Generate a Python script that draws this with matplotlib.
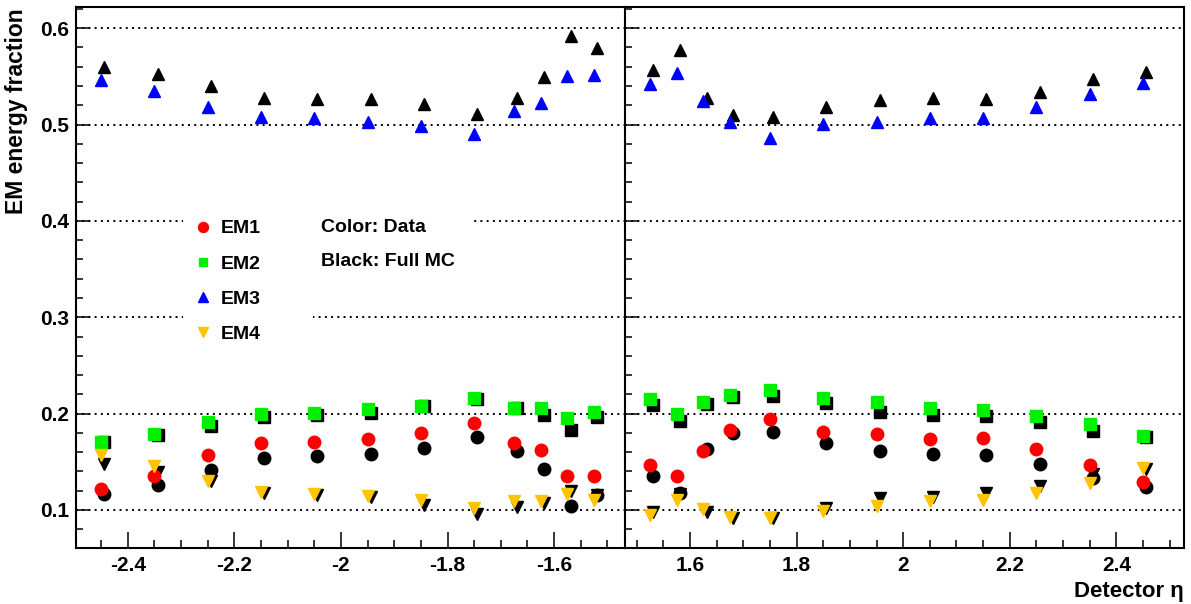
import numpy as np
import matplotlib.pyplot as plt
from matplotlib.lines import Line2D
from matplotlib.patches import Rectangle
from matplotlib.ticker import MultipleLocator, FormatStrFormatter

plt.rcParams['font.family'] = ['Liberation Sans', 'DejaVu Sans']
plt.rcParams['font.weight'] = 'bold'
plt.rcParams['axes.unicode_minus'] = False

# bin centres in detector eta
eta_neg = [-2.45, -2.35, -2.25, -2.15, -2.05, -1.95, -1.85, -1.75, -1.675, -1.625, -1.575, -1.525]
eta_pos = [1.525, 1.575, 1.625, 1.675, 1.75, 1.85, 1.95, 2.05, 2.15, 2.25, 2.35, 2.45]

# data, negative eta
em1_data_neg = [0.122, 0.135, 0.157, 0.169, 0.170, 0.174, 0.180, 0.190, 0.169, 0.162, 0.135, 0.135]
em2_data_neg = [0.171, 0.179, 0.191, 0.200, 0.201, 0.205, 0.208, 0.216, 0.206, 0.206, 0.195, 0.202]
em3_data_neg = [0.546, 0.535, 0.518, 0.508, 0.507, 0.503, 0.498, 0.490, 0.514, 0.522, 0.550, 0.551]
em4_data_neg = [0.157, 0.146, 0.130, 0.119, 0.117, 0.114, 0.110, 0.102, 0.109, 0.109, 0.117, 0.110]
# full MC, negative eta
em1_mc_neg = [0.117, 0.126, 0.141, 0.154, 0.156, 0.158, 0.164, 0.176, 0.161, 0.142, 0.104, 0.116]
em2_mc_neg = [0.170, 0.178, 0.187, 0.196, 0.199, 0.201, 0.208, 0.215, 0.206, 0.199, 0.183, 0.196]
em3_mc_neg = [0.560, 0.552, 0.540, 0.528, 0.527, 0.526, 0.521, 0.511, 0.528, 0.549, 0.592, 0.579]
em4_mc_neg = [0.148, 0.139, 0.130, 0.118, 0.115, 0.113, 0.105, 0.096, 0.103, 0.107, 0.120, 0.115]

# data, positive eta
em1_data_pos = [0.147, 0.135, 0.161, 0.183, 0.194, 0.181, 0.179, 0.174, 0.175, 0.163, 0.147, 0.129]
em2_data_pos = [0.215, 0.200, 0.212, 0.219, 0.225, 0.216, 0.212, 0.206, 0.204, 0.197, 0.189, 0.177]
em3_data_pos = [0.542, 0.553, 0.524, 0.503, 0.486, 0.501, 0.503, 0.507, 0.507, 0.518, 0.532, 0.543]
em4_data_pos = [0.095, 0.110, 0.101, 0.093, 0.092, 0.099, 0.104, 0.109, 0.110, 0.118, 0.128, 0.144]
# full MC, positive eta
em1_mc_pos = [0.135, 0.118, 0.163, 0.180, 0.181, 0.169, 0.161, 0.158, 0.157, 0.148, 0.133, 0.124]
em2_mc_pos = [0.209, 0.192, 0.210, 0.217, 0.218, 0.211, 0.202, 0.199, 0.197, 0.191, 0.182, 0.176]
em3_mc_pos = [0.557, 0.577, 0.528, 0.510, 0.508, 0.518, 0.525, 0.528, 0.527, 0.534, 0.547, 0.555]
em4_mc_pos = [0.098, 0.117, 0.098, 0.092, 0.092, 0.102, 0.112, 0.113, 0.118, 0.125, 0.137, 0.143]

labels = ['EM1', 'EM2', 'EM3', 'EM4']
colors = ['#ff0000', '#00f000', '#0000ff', '#ffc400']
markers = ['o', 's', '^', 'v']
sizes = [9, 8, 9, 9]
mc_shift = 0.006

fig = plt.figure(figsize=(11.91, 6.04), dpi=100)
W, H = 1191.0, 604.0
bot, top = 56 / H, 1 - 7 / H
axL = fig.add_axes([76 / W, bot, 549 / W, top - bot])
axR = fig.add_axes([625 / W, bot, 559 / W, top - bot])


def draw_panel(ax, eta, data, mc, xlim, show_ylabels):
    for yv in [0.1, 0.2, 0.3, 0.4, 0.5, 0.6]:
        ax.axhline(yv, color='black', lw=1.4, ls=(0, (1, 2.2)), zorder=1)
    x = np.array(eta)
    for i in range(4):
        ax.plot(x + mc_shift, mc[i], ls='none', marker=markers[i], ms=sizes[i],
                mfc='black', mec='black', zorder=3)
    for i in range(4):
        ax.plot(x, data[i], ls='none', marker=markers[i], ms=sizes[i],
                mfc=colors[i], mec=colors[i], zorder=4)
    ax.set_xlim(*xlim)
    ax.set_ylim(0.0605, 0.622)
    ax.xaxis.set_major_locator(MultipleLocator(0.2))
    ax.xaxis.set_minor_locator(MultipleLocator(0.05))
    ax.yaxis.set_major_locator(MultipleLocator(0.1))
    ax.yaxis.set_minor_locator(MultipleLocator(0.02))
    ax.xaxis.set_major_formatter(FormatStrFormatter('%g'))
    ax.yaxis.set_major_formatter(FormatStrFormatter('%g'))
    ax.tick_params(axis='x', which='major', direction='in', length=11.5, width=1.1,
                   labelsize=15, pad=6)
    ax.tick_params(axis='x', which='minor', direction='in', length=5.8, width=1.1)
    ax.tick_params(axis='y', which='major', direction='in', length=10, width=1.1,
                   labelsize=15, pad=5, labelleft=show_ylabels)
    ax.tick_params(axis='y', which='minor', direction='in', length=5, width=1.1)
    for lbl in ax.get_xticklabels() + ax.get_yticklabels():
        lbl.set_fontweight('bold')
    for s in ax.spines.values():
        s.set_linewidth(1.5)


draw_panel(axL, eta_neg,
           [em1_data_neg, em2_data_neg, em3_data_neg, em4_data_neg],
           [em1_mc_neg, em2_mc_neg, em3_mc_neg, em4_mc_neg],
           (-2.497, -1.467), True)
draw_panel(axR, eta_pos,
           [em1_data_pos, em2_data_pos, em3_data_pos, em4_data_pos],
           [em1_mc_pos, em2_mc_pos, em3_mc_pos, em4_mc_pos],
           (1.478, 2.527), False)
axL.spines['right'].set_visible(False)

# white legend backgrounds hiding the dotted lines
for (x0, y0, x1, y1) in [(183, 215, 313, 345), (313, 215, 470, 290)]:
    axL.add_patch(Rectangle((x0 / W, 1 - y1 / H), (x1 - x0) / W, (y1 - y0) / H,
                            transform=fig.transFigure, facecolor='white',
                            edgecolor='none', zorder=5, clip_on=False))

handles = [Line2D([], [], ls='none', marker=markers[i], ms=sizes[i] * 0.8,
                  mfc=colors[i], mec=colors[i]) for i in range(4)]
leg = axL.legend(handles, labels, loc='upper left',
                 bbox_to_anchor=(183 / W, 1 - 213 / H), bbox_transform=fig.transFigure,
                 fontsize=14, frameon=False, borderpad=0.35,
                 handlelength=1.4, handletextpad=0.2, labelspacing=0.9,
                 borderaxespad=0)
leg.set_zorder(6)
for t in leg.get_texts():
    t.set_fontweight('bold')

for txt, yp in [('Color: Data', 228), ('Black: Full MC', 262)]:
    axL.text(321 / W, 1 - yp / H, txt, transform=fig.transFigure,
             ha='left', va='center', fontsize=14, fontweight='bold', zorder=6)

fig.text(17 / W, 1 - 8 / H, 'EM energy fraction', rotation=90, ha='center', va='top',
         fontsize=16.5, fontweight='bold')
fig.text(1184 / W, 1 - 591 / H, 'Detector η', ha='right', va='center',
         fontsize=16, fontweight='bold')

fig.savefig('out.png', dpi=100)
